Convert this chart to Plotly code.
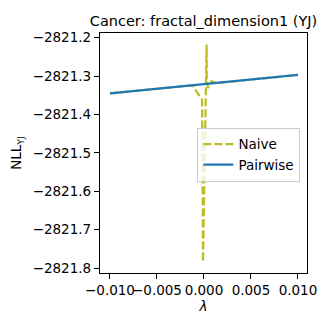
import plotly.graph_objects as go

# Data
lam_naive = [-0.010, -0.005, -0.002, -0.0012, -0.0008, -0.0004, -0.0002, -0.0001,
             0.00028, 0.0003, 0.00045, 0.0008, 0.0013, 0.005, 0.010]
nll_naive = [-2821.345, -2821.333, -2821.326, -2821.324, -2821.340, -2821.353, -2821.362, -2821.784,
             -2821.218, -2821.315, -2821.331, -2821.313, -2821.318, -2821.309, -2821.297]

lam_pair = [-0.010, -0.005, 0.0, 0.005, 0.010]
nll_pair = [-2821.345, -2821.333, -2821.321, -2821.309, -2821.297]

x_ticks = [-0.010, -0.005, 0.0, 0.005, 0.010]
x_ticktext = ["\u22120.010", "\u22120.005", "0.000", "0.005", "0.010"]
y_ticks = [-2821.2, -2821.3, -2821.4, -2821.5, -2821.6, -2821.7, -2821.8]
y_ticktext = ["\u22122821.2", "\u22122821.3", "\u22122821.4", "\u22122821.5",
              "\u22122821.6", "\u22122821.7", "\u22122821.8"]

FONT = "DejaVu Sans"
FS = 13.5
OFF = 8  # page body margin
W = 329 - OFF

fig = go.Figure()
fig.add_trace(go.Scatter(x=lam_naive, y=nll_naive, mode="lines", name="Naive",
                         line=dict(color="#bcbd22", width=2.2, dash="8px,3px")))
fig.add_trace(go.Scatter(x=lam_pair, y=nll_pair, mode="lines", name="Pairwise",
                         line=dict(color="#1f77b4", width=2.2)))

fig.update_layout(
    width=W, height=W, autosize=False,
    margin=dict(l=100 - OFF, r=22, t=33 - OFF, b=56, pad=0),
    paper_bgcolor="white", plot_bgcolor="white",
    font=dict(family=FONT, size=FS, color="black"),
    title=dict(text="Cancer: fractal_dimension1 (YJ)", xref="paper", x=0.5, xanchor="center",
               yref="container", y=1 - (21 - OFF) / W, yanchor="middle",
               font=dict(size=14.5, family=FONT)),
    showlegend=True,
    legend=dict(x=0.968, xanchor="right", y=0.605, yanchor="top",
                bgcolor="rgba(255,255,255,0.8)", bordercolor="#cccccc", borderwidth=1,
                font=dict(size=FS, family=FONT), itemwidth=30, tracegroupgap=0),
)
fig.update_xaxes(range=[-0.01106, 0.01096], tickvals=x_ticks, ticktext=x_ticktext, tickangle=0,
                 automargin=False,
                 showgrid=False, zeroline=False, showline=True, linecolor="black", linewidth=1.2,
                 mirror=True, ticks="outside", ticklen=5, tickwidth=1.2, tickcolor="black",
                 title=dict(text="<i>λ</i>", standoff=3, font=dict(size=FS)))
fig.update_yaxes(range=[-2821.813, -2821.1877], tickvals=y_ticks, ticktext=y_ticktext,
                 automargin=False,
                 showgrid=False, zeroline=False, showline=True, linecolor="black", linewidth=1.2,
                 mirror=True, ticks="outside", ticklen=5, tickwidth=1.2, tickcolor="black",
                 title=dict(text="NLL<sub>YJ</sub>", standoff=10, font=dict(size=FS)))

fig.write_html("out.html")
